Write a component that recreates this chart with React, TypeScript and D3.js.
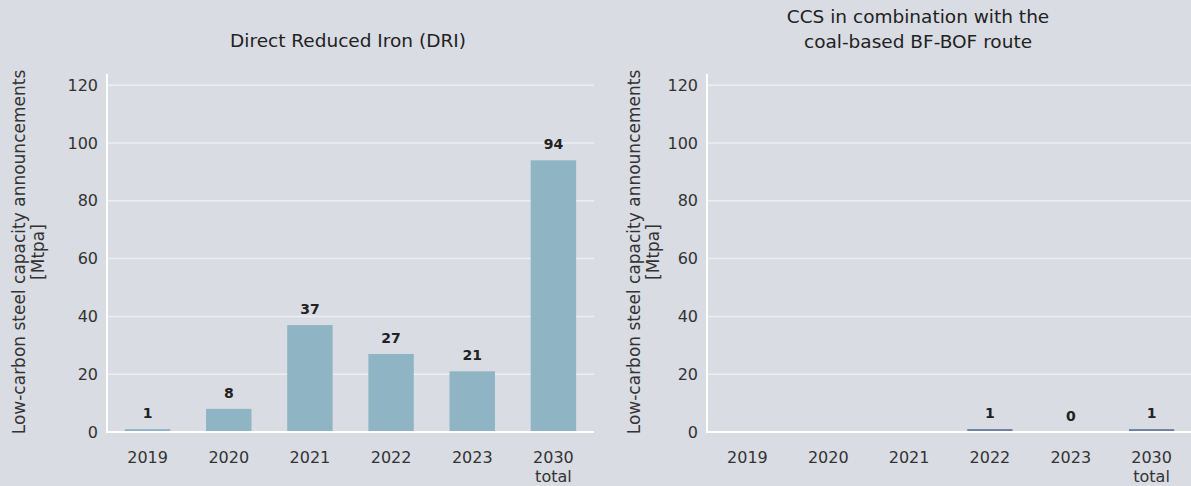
import React from 'react';
import * as d3 from 'd3';

const categories = ['2019', '2020', '2021', '2022', '2023', '2030 total'];
const driValues = [1, 8, 37, 27, 21, 94];
const ccsValues = [null, null, null, 1, 0, 1];
const yTicks = [0, 20, 40, 60, 80, 100, 120];

const BG = '#d9dce3';
const GRID = '#eceef1';
const FONT = "'DejaVu Sans', sans-serif";

interface PanelProps {
  title: string[];
  values: (number | null)[];
  color: string;
  left: number;
  right: number;
  titleX: number;
  labelX: number;
}

const Panel: React.FC<PanelProps> = ({ title, values, color, left, right, titleX, labelX }) => {
  const top = 74;
  const bottom = 432;
  const x = d3.scaleBand<string>().domain(categories).range([left, right]).paddingInner(0.44).paddingOuter(0.22);
  const y = d3.scaleLinear().domain([0, 120]).range([bottom, bottom - 346.8]);
  const midY = 252;

  return (
    <g fontFamily={FONT}>
      {title.map((t, i) => (
        <text key={t} x={titleX} y={title.length === 1 ? 47 : 23 + i * 25} textAnchor="middle" fontSize={18.5} fill="#222">
          {t}
        </text>
      ))}
      <g transform={`translate(${labelX},${midY}) rotate(-90)`}>
        <text x={0} y={0} textAnchor="middle" fontSize={17} fill="#333">Low-carbon steel capacity announcements</text>
        <text x={0} y={19} textAnchor="middle" fontSize={17} fill="#333">[Mtpa]</text>
      </g>
      {yTicks.map((t) => (
        <g key={t}>
          {t > 0 && <line x1={left} x2={right} y1={y(t)} y2={y(t)} stroke={GRID} strokeWidth={1.5} />}
          <text x={left - 9} y={y(t)} dy="0.35em" textAnchor="end" fontSize={16} fill="#333">{t}</text>
        </g>
      ))}
      {values.map((v, i) => {
        if (v === null) return null;
        const c = categories[i];
        const bx = x(c)!;
        const h = bottom - y(v);
        return (
          <g key={c}>
            {v > 0 && <rect x={bx} y={y(v)} width={x.bandwidth()} height={h} fill={color} />}
            <text x={bx + x.bandwidth() / 2} y={y(v) - 11} textAnchor="middle" fontSize={14} fontWeight="bold" fill="#222">
              {v}
            </text>
          </g>
        );
      })}
      <line x1={left} x2={left} y1={top} y2={bottom + 1} stroke="#fff" strokeWidth={2} />
      <line x1={left - 1} x2={right} y1={bottom} y2={bottom} stroke="#fff" strokeWidth={2} />
      {categories.map((c) => {
        const parts = c.split(' ');
        const cx = x(c)! + x.bandwidth() / 2;
        return (
          <text key={c} x={cx} y={463} textAnchor="middle" fontSize={16} fill="#333">
            {parts.map((p, j) => (
              <tspan key={p} x={cx} dy={j === 0 ? 0 : 19}>{p}</tspan>
            ))}
          </text>
        );
      })}
    </g>
  );
};

export default function App() {
  return (
    <svg width={1191} height={486} style={{ position: 'absolute', left: 0, top: 0, background: BG }}>
      <rect width={1191} height={486} fill={BG} />
      <Panel title={['Direct Reduced Iron (DRI)']} values={driValues} color="#8fb5c4" left={107} right={594} titleX={348} labelX={25} />
      <Panel title={['CCS in combination with the', 'coal-based BF-BOF route']} values={ccsValues} color="#6a7f9e" left={707} right={1192} titleX={918} labelX={640} />
    </svg>
  );
}
